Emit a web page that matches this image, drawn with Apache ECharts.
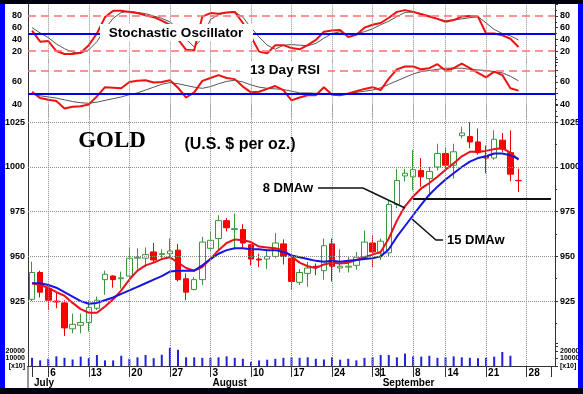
<!DOCTYPE html>
<html><head><meta charset="utf-8">
<script src="https://cdn.jsdelivr.net/npm/echarts@6/dist/echarts.min.js"></script>
<style>html,body{margin:0;padding:0;background:#fff}#c{width:583px;height:394px}</style>
</head><body><div id="c"></div>
<script>
// ---------- DATA ----------
const dates = [
 '2009-07-01','2009-07-02','2009-07-06','2009-07-07','2009-07-08','2009-07-09','2009-07-10',
 '2009-07-13','2009-07-14','2009-07-15','2009-07-16','2009-07-17',
 '2009-07-20','2009-07-21','2009-07-22','2009-07-23','2009-07-24',
 '2009-07-27','2009-07-28','2009-07-29','2009-07-30','2009-07-31',
 '2009-08-03','2009-08-04','2009-08-05','2009-08-06','2009-08-07',
 '2009-08-10','2009-08-11','2009-08-12','2009-08-13','2009-08-14',
 '2009-08-17','2009-08-18','2009-08-19','2009-08-20','2009-08-21',
 '2009-08-24','2009-08-25','2009-08-26','2009-08-27','2009-08-28',
 '2009-08-31','2009-09-01','2009-09-02','2009-09-03','2009-09-04',
 '2009-09-08','2009-09-09','2009-09-10','2009-09-11',
 '2009-09-14','2009-09-15','2009-09-16','2009-09-17','2009-09-18',
 '2009-09-21','2009-09-22','2009-09-23','2009-09-24','2009-09-25',
 '2009-09-28','2009-09-29','2009-09-30','2009-10-01'
];
const openP  = [926,941,932,925,924,909.5,911.5,913,921,937,939,937.5,939,949,949,952.5,951,951.5,953.5,937.5,931.5,937,954.5,960,970,965,965,956.5,948.5,948.5,950,957,949,935.5,940.5,944.5,942,957,943.5,944,945,949.5,957.5,951.5,952,979,995,994.5,998,993.5,1000,1007.5,1001,1017.5,1017,1014,1006,1005,1015,1008,992.5];
const closeP = [941,930,925.5,924.5,910,912,913,921.5,925.5,940,937,938,949,949.5,951,948,951.5,953,937,930,937,958,959,970,966,965.5,957.5,948.5,948,950,957.5,950,936,941,943.5,944,956,944.5,944.5,944.5,949.5,958,952.5,958.5,979,992.5,996.5,998.5,994.5,997.5,1007.5,1001,1008.5,1019,1014,1008,1005,1015.5,1010,996,992.3];
const highP  = [947,942,934,929.5,925.5,918,918,925.5,927.5,942,939.5,941.5,955,954.5,955,957.5,954,960,957,940.5,938.5,961,964,973,971.5,974,968,957,951.5,953,963,959.5,951,943,947,946,960,960,954,950,952.5,964.5,962,960,981,999,999,1009.5,1005,1000,1013,1010.5,1013,1022.5,1025,1021.5,1012,1020.5,1019,1020.5,999];
const lowP   = [925,927,920,921,905.5,907,907,908,920,928.5,932.5,932,938,943,944,947,949,949.5,936,925.5,931,934,953,954,964,954,955,945,944,943,949,945.5,931.5,934,933,939.5,937,936,941,941,942.5,948,944,948,950,977,992,987,989,983.5,998,998.5,993.5,1016,1010.5,1007,996.5,1004,1008.5,992,986];
const ma8  = [935,934,932.5,930,928,924,920.5,918.5,918.5,922,926,931,937,942,945,946.5,948.5,949.5,946.5,943.5,942,944,948.5,953.5,957.5,959.5,959,958,955.5,955,954.5,953.5,950,946.5,944.5,943.5,945.5,946.5,946,946.5,948,949.5,951,952.5,960,970,978,983.5,988,991,994.5,998.5,1002,1006,1008.5,1008.5,1009,1010,1010.5,1008,1004];
const ma15 = [935,935,934,932.5,930,927.5,925,923.5,924,925.5,927,929,931,933,935,937,939,941.5,942,942,942,945,948.5,951.5,953.5,954.5,954.5,954,954,953.5,953.5,952.5,950.5,949.5,948.5,947.5,947,947.5,947,947.5,948,948.5,949,950,954,961,967,973,979,984.5,989,993,996.5,1000,1003,1005,1006,1007.5,1007.5,1006.5,1004.5];
const stochK = [55,36,37,20,15,15,17,30,50,78,89,89,87,85,81,78,72,65,40,22,21,79,85,84,86,87,68,45,19,16,30,30,25,23,30,39,53,55,56,44,48,60,65,68,77,87,90,87,83,79,75,70,73,79,80,79,50,50,47,41,27];
const stochD = [60,51,43,32,24,18,16,22,36,58,76,86,88,86,84,80,76,70,58,40,27,42,74,82,86,87,78,60,44,30,23,30,31,30,29,33,42,50,53,48,50,53,58,65,71,79,86,87,84,80,75,72,73,75,77,79,68,57,50,46,39];
const rsi    = [51.5,46,44.5,43.5,37,38.5,39,40.5,47.5,55.5,55,54.5,60,61,61.5,59.5,60,61.5,55,46.5,51,61,63.5,66,63.5,62.5,56,51,51.5,54,56.5,53,44,46.5,48.5,48.5,55.5,49,48.5,50,52,54,55.5,53,63,71,73.5,73.5,71,72,75.5,70,72,76,72,68,64,69,66,54.5,52.5];
const rsiMA  = [49.5,48,47,46,44.5,43,42,41.5,42.5,44,45.5,47,49,50.5,53,55.5,58,59.5,58.5,57,55.5,54.5,56,58.5,60.5,61.5,60,57.5,55.5,54.5,54,53.5,52,50.5,50.5,50.2,50,49.8,49.8,50,51,52,53,55,58,61,64,67,69,70,71,72,72,72,71,70.5,70,69,68,65,61];
const volume = [10900,7500,9600,12900,10900,8700,12500,10400,14600,7500,7500,13700,9600,11600,14600,10400,15000,24100,21600,11600,11600,10900,10900,11600,12900,10900,9600,5400,7500,8400,9600,10900,11600,10900,11600,9600,8700,11600,8400,9600,7500,10900,11600,14600,14600,11600,16600,12900,12500,13700,10900,11600,12900,11600,10900,10400,10900,12500,18700,13700,null];
const resistanceLevel = 982.5;      // drawn horizontal level
const resistanceFrom = 47, resistanceTo = 64;
const weekStartIdx  = [2,7,12,17,22,27,32,37,42,47,51,56,61];
const monthStartIdx = [0,22,43,64];
const monthNames    = ['July','August','September',''];
const stochTicks = [20,40,60,80];
const rsiTicks   = [40,60];
const priceTicks = [925,950,975,1000,1025];
const volTicks   = [10000,20000];
const stochLevels = {upper:80, mid:50, lower:20};
const rsiLevels   = {upper:70, mid:50};

// ---------- BUILD ----------
const candle = openP.map((o,i)=>[o, closeP[i], lowP[i], highP[i]]);
const FONT = '"Liberation Sans", Arial, sans-serif';
function gridStyle(){ return {type:'dotted', color:'#8c8c8c', width:1, opacity:1}; }
const vGrid = () => weekStartIdx.map(i=>({xAxis: dates[i], lineStyle:gridStyle()}));
const dashRed = {type:[8,5], color:'#ff7070', width:1.5};
const blueLvl = {type:'solid', color:'#0000ee', width:2};

function mk(data, z){
  return {silent:true, symbol:['none','none'], animation:false, label:{show:false},
          lineStyle:gridStyle(), emphasis:{disabled:true}, data:data};
}
const grids = [
  {left:28, width:527, top:4.3,   height:58.4},
  {left:28, width:527, top:59,    height:57.5},
  {left:28, width:527, top:104.4, height:241.4},
  {left:28, width:527, top:343.5, height:22.5}
].map(g=>Object.assign(g,{outerBoundsMode:'none', containLabel:false}));

function xa(gi){
  return {type:'category', gridIndex:gi, data:dates, boundaryGap:true,
    axisLine:{show:false}, axisTick:{show:false}, axisLabel:{show:false}, splitLine:{show:false}};
}
const xAxes = [xa(0), xa(1), xa(2),
  {type:'category', gridIndex:3, data:dates, boundaryGap:true, position:'bottom',
   axisLine:{show:true, lineStyle:{color:'#333', width:1}},
   axisTick:{show:true, alignWithLabel:true, length:11, interval:(i)=>weekStartIdx.includes(i), lineStyle:{color:'#333'}},
   axisLabel:{show:true, interval:(i)=>weekStartIdx.includes(i), align:'left', margin:2,
     formatter:(v)=>String(parseInt(v.slice(8),10)), fontFamily:FONT, fontWeight:'bold', fontSize:10, color:'#000',
     padding:[0,0,0,2]},
   splitLine:{show:false}},
  {type:'category', gridIndex:3, data:dates, boundaryGap:true, position:'bottom', offset:11,
   axisLine:{show:true, lineStyle:{color:'#333', width:1}},
   axisTick:{show:true, alignWithLabel:true, length:11, interval:(i)=>monthStartIdx.includes(i), lineStyle:{color:'#333'}},
   axisLabel:{show:true, interval:(i)=>monthStartIdx.includes(i), align:'left', margin:1,
     formatter:(v,i)=>{const k=monthStartIdx.indexOf(i); return k>=0?monthNames[k]:'';},
     fontFamily:FONT, fontWeight:'bold', fontSize:10, color:'#000', padding:[0,0,0,2]},
   splitLine:{show:false}}
];

function ya(gi, pos, min, max, interval, labels, margin){
  const right = pos==='right';
  return {type:'value', gridIndex:gi, position:pos, min:min, max:max, interval:interval,
    axisLine:{show:true, lineStyle:{color:'#333', width:1}},
    axisTick:{show:right, inside:false, length:3, lineStyle:{color:'#333'}},
    minorTick:{show:right, splitNumber:2, length:2, lineStyle:{color:'#333'}},
    splitLine:{show:false},
    axisLabel:{show:true, margin:margin, fontFamily:FONT, fontWeight:'bold', fontSize:9, color:'#000',
      formatter:(v)=> labels.includes(v)? String(v) : ''}};
}
const volLabel = (v)=> v===0 ? '[x10]' : (volTicks.includes(v)? String(v) : '');
const yAxes = [
  ya(0,'left',0,100,20,stochTicks,6), ya(0,'right',0,100,20,stochTicks,5),
  ya(1,'left',30,80,10,rsiTicks,6),  ya(1,'right',30,80,10,rsiTicks,5),
  ya(2,'left',900,1035,25,priceTicks,3), ya(2,'right',900,1035,25,priceTicks,5),
  ya(3,'left',0,30000,10000,volTicks,3), ya(3,'right',0,30000,10000,volTicks,5)
];
yAxes[6].axisLabel.formatter = volLabel; yAxes[6].axisLabel.fontSize = 7;
yAxes[7].axisLabel.formatter = volLabel; yAxes[7].axisLabel.fontSize = 7;
yAxes[6].minorTick.show=false; yAxes[7].minorTick.show=false;

// grid-line carrier series (empty line series that only hold markLines)
function gridCarrier(xi, yi, data){
  return {type:'line', xAxisIndex:xi, yAxisIndex:yi, data:[], symbol:'none', silent:true, z:1,
          markLine: mk(data)};
}

const series = [
  gridCarrier(0,0, vGrid()),
  gridCarrier(1,2, vGrid()),
  gridCarrier(2,4, vGrid().concat(priceTicks.map(v=>({yAxis:v, lineStyle:gridStyle()})))),
  gridCarrier(3,6, vGrid()),
  {type:'line', name:'%D', xAxisIndex:0, yAxisIndex:0, data:stochD, symbol:'none', animation:false,
   lineStyle:{color:'#555', width:1},
   markLine: mk([
     {yAxis:stochLevels.upper, lineStyle:dashRed},
     {yAxis:stochLevels.lower, lineStyle:dashRed},
     {yAxis:stochLevels.mid, lineStyle:blueLvl}])},
  {type:'line', name:'%K', xAxisIndex:0, yAxisIndex:0, data:stochK, symbol:'none', animation:false,
   lineStyle:{color:'#ee1111', width:2}},
  {type:'line', name:'RSI MA', xAxisIndex:1, yAxisIndex:2, data:rsiMA, symbol:'none', animation:false,
   lineStyle:{color:'#555', width:1},
   markLine: mk([
     {yAxis:rsiLevels.upper, lineStyle:dashRed},
     {yAxis:rsiLevels.mid, lineStyle:blueLvl}])},
  {type:'line', name:'RSI', xAxisIndex:1, yAxisIndex:2, data:rsi, symbol:'none', animation:false,
   lineStyle:{color:'#ee1111', width:2}},
  {type:'candlestick', name:'Gold', xAxisIndex:2, yAxisIndex:4, data:candle, barWidth:6, animation:false,
   itemStyle:{color:'#ffffff', color0:'#ff0000', borderColor:'#3c963c', borderColor0:'#ee0000', borderWidth:1},
   markLine: mk([
     [{coord:[dates[resistanceFrom], resistanceLevel], lineStyle:{type:'solid', color:'#111', width:2}},
      {coord:[dates[resistanceTo], resistanceLevel]}]])},
  {type:'line', name:'8 DMAw', xAxisIndex:2, yAxisIndex:4, data:ma8, symbol:'none', animation:false,
   lineStyle:{color:'#e8101a', width:2}},
  {type:'line', name:'15 DMAw', xAxisIndex:2, yAxisIndex:4, data:ma15, symbol:'none', animation:false,
   lineStyle:{color:'#1515e0', width:2}},
  {type:'bar', name:'Volume', xAxisIndex:3, yAxisIndex:6, data:volume, barWidth:2, animation:false,
   itemStyle:{color:'#2020dd'}}
];

const graphic = [
  {type:'rect', z:100, shape:{x:100, y:24, width:153, height:17}, style:{fill:'#fff'}},
  {type:'text', z:101, x:176, y:33, style:{text:'Stochastic Oscillator', font:'bold 13.5px '+FONT, fill:'#000', align:'center', verticalAlign:'middle'}},
  {type:'rect', z:100, shape:{x:240, y:61, width:88, height:17}, style:{fill:'#fff'}},
  {type:'text', z:101, x:285, y:70, style:{text:'13 Day RSI', font:'bold 13.5px '+FONT, fill:'#000', align:'center', verticalAlign:'middle'}},
  {type:'text', z:101, x:112, y:141, style:{text:'GOLD', font:'bold 23px "Liberation Serif", "Times New Roman", serif', fill:'#000', align:'center', verticalAlign:'middle'}},
  {type:'text', z:101, x:240, y:145, style:{text:'(U.S. $ per oz.)', font:'bold 16px '+FONT, fill:'#000', align:'center', verticalAlign:'middle'}},
  {type:'text', z:101, x:313, y:188, style:{text:'8 DMAw', font:'bold 13px '+FONT, fill:'#000', align:'right', verticalAlign:'middle'}},
  {type:'polyline', z:101, shape:{points:[[318,188],[363,188],[405,208]]}, style:{stroke:'#111', lineWidth:1.5, fill:null}},
  {type:'text', z:101, x:447, y:240, style:{text:'15 DMAw', font:'bold 13px '+FONT, fill:'#000', align:'left', verticalAlign:'middle'}},
  {type:'polyline', z:101, shape:{points:[[412,219],[436,240],[443,240]]}, style:{stroke:'#111', lineWidth:1.5, fill:null}},
  {type:'line', z:50, shape:{x1:28, y1:366, x2:28, y2:388}, style:{stroke:'#333', lineWidth:1}},
  // frame
  {type:'rect', z:200, shape:{x:0, y:0, width:5, height:394}, style:{fill:'#0000ff'}},
  {type:'rect', z:200, shape:{x:578, y:0, width:5, height:394}, style:{fill:'#0000ff'}},
  {type:'rect', z:201, shape:{x:0, y:0, width:583, height:4}, style:{fill:'#000010'}},
  {type:'rect', z:201, shape:{x:0, y:388, width:583, height:6}, style:{fill:'#000010'}}
];

const chart = echarts.init(document.getElementById('c'), null, {renderer:'canvas'});
chart.setOption({
  backgroundColor:'#ffffff', animation:false,
  grid:grids, xAxis:xAxes, yAxis:yAxes, series:series, graphic:graphic
});
</script></body></html>
